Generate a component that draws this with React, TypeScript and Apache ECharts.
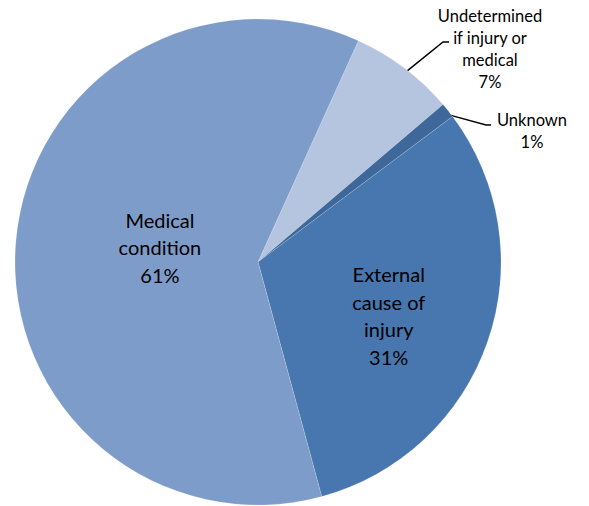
import React, { useEffect, useRef } from "react";
import * as echarts from "echarts";

const categories = [
  "Undetermined\nif injury or\nmedical",
  "Unknown",
  "External\ncause of\ninjury",
  "Medical\ncondition",
];
const values = [7, 1, 31, 61];
const colors = ["#b5c4df", "#3d6899", "#4877b0", "#7e9cca"];

export default function App() {
  const ref = useRef<HTMLDivElement>(null);
  useEffect(() => {
    document.body.style.margin = "0";
    const chart = echarts.init(ref.current!, null, { renderer: "svg" });
    const data = categories.map((name, i) => {
      const inside = i >= 2;
      return {
        name,
        value: values[i],
        itemStyle: { color: colors[i] },
        label: inside
          ? {
              position: "inside",
              fontSize: 20,
              lineHeight: 27.5,
              color: "#000",
              align: "center",
            }
          : {
              position: "outside",
              fontSize: 16.5,
              lineHeight: 22,
              color: "#000",
              align: "center",
            },
        labelLine: { show: !inside },
      };
    });
    chart.setOption({
      animation: false,
      series: [
        {
          type: "pie",
          center: [258, 262],
          radius: 243,
          startAngle: 65.6,
          clockwise: true,
          data,
          itemStyle: { borderColor: "rgba(255,255,255,0.3)", borderWidth: 0.5 },
          label: {
            fontFamily: "Lato, 'Liberation Sans', sans-serif",
            formatter: (p: any) => `${p.name}\n${p.value}%`,
          },
          labelLine: {
            lineStyle: { color: "#000", width: 1.5 },
          },
          labelLayout: (p: any) => {
            const a = p.labelLinePoints ? p.labelLinePoints[0] : null;
            if (p.dataIndex === 0)
              return {
                x: 490,
                y: 49,
                align: "center",
                verticalAlign: "middle",
                labelLinePoints: a ? [[a[0] + 3, a[1] + 3], [443, 42], [449, 42]] : undefined,
              };
            if (p.dataIndex === 1)
              return {
                x: 532,
                y: 131,
                align: "center",
                verticalAlign: "middle",
                labelLinePoints: a ? [[a[0] + 3, a[1] + 5], [486, 125], [491, 125]] : undefined,
              };
            if (p.dataIndex === 2) return { dx: 13, dy: 13 };
            return { dx: 26, dy: -5 };
          },
        },
      ],
    });
    return () => chart.dispose();
  }, []);
  return <div ref={ref} style={{ width: 589, height: 506 }} />;
}
